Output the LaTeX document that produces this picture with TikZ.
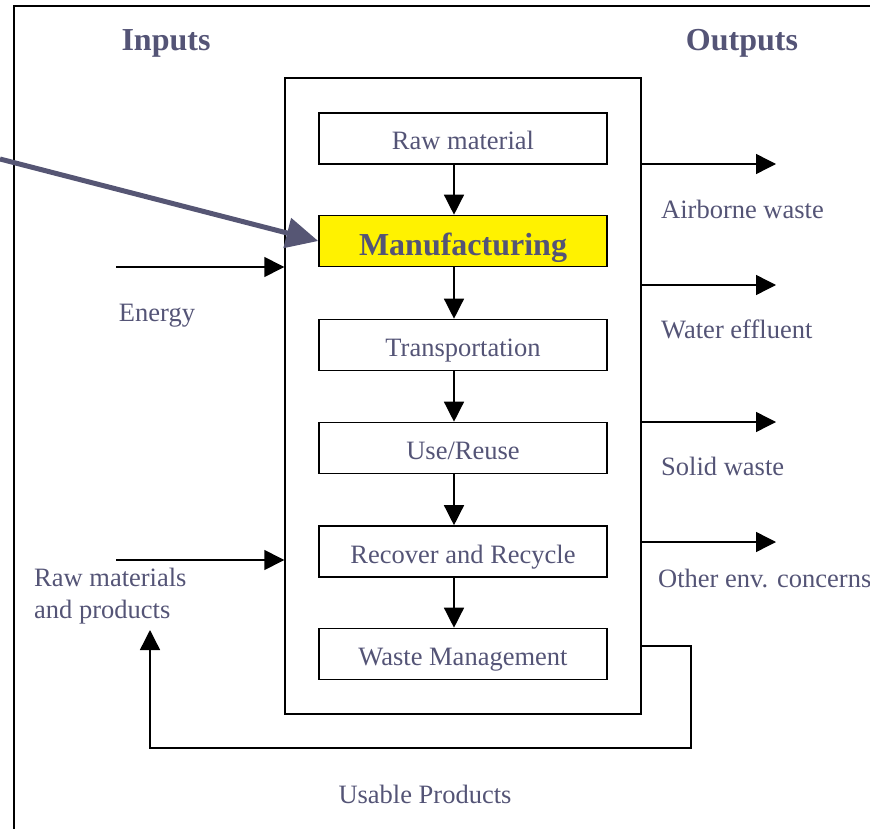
\documentclass[tikz,border=0pt]{standalone}
\usepackage{fontspec}
\setmainfont{Liberation Serif}
\usetikzlibrary{arrows.meta}
\definecolor{txt}{RGB}{84,84,118}
\definecolor{bigarr}{RGB}{86,86,116}
\begin{document}
\begin{tikzpicture}[x=1pt,y=-1pt,
  stage/.style={draw=black,line width=1.6pt,minimum width=288pt,minimum height=51pt,inner sep=0pt,
    font=\fontsize{26.5}{30}\selectfont,text=txt,text height=23pt,text depth=0pt},
  lbl/.style={font=\fontsize{26.5}{30}\selectfont,text=txt,inner sep=0pt},
  head/.style={font=\bfseries\fontsize{32}{36}\selectfont,text=txt,inner sep=0pt},
  flow/.style={line width=1.4pt,-{Triangle[length=20pt,width=20pt]}},
  plain/.style={line width=1.4pt}]
\useasboundingbox (0,0) rectangle (870,829);
% outer frame (only left and top edges visible)
\draw[line width=1.4pt] (14,829) -- (14,6) -- (870,6);
% inner box
\node[draw=black,line width=1.4pt,minimum width=356pt,minimum height=636pt,inner sep=0pt] (inner) at (463,396) {};
% headings
\node[head] (inputs) at (166,43) {Inputs};
\node[head] (outputs) at (742,43) {Outputs};
% stages
\node[stage] (raw) at (463,138.5) {Raw material};
\node[stage,fill=yellow,font=\bfseries\fontsize{32}{36}\selectfont,text height=28pt] (manu) at (463,241) {Manufacturing};
\node[stage] (trans) at (463,345) {Transportation};
\node[stage] (use) at (463,448) {Use/Reuse};
\node[stage] (rec) at (463,551.5) {Recover and Recycle};
\node[stage] (waste) at (463,654) {Waste Management};
% vertical flow (arrows sit left of the box centres)
\coordinate (ax) at (454,0);
\draw[flow] (ax |- raw.south) -- (ax |- manu.north);
\draw[flow] (ax |- manu.south) -- (ax |- trans.north);
\draw[flow] (ax |- trans.south) -- (ax |- use.north);
\draw[flow] (ax |- use.south) -- (ax |- rec.north);
\draw[flow] (ax |- rec.south) -- (ax |- waste.north);
% outputs
\coordinate (o1) at (776,164);
\coordinate (o2) at (776,285);
\coordinate (o3) at (776,422);
\coordinate (o4) at (776,542);
\draw[flow] (inner.east |- o1) -- (o1);
\draw[flow] (inner.east |- o2) -- (o2);
\draw[flow] (inner.east |- o3) -- (o3);
\draw[flow] (inner.east |- o4) -- (o4);
\node[lbl,anchor=west] (air) at (661,209) {Airborne waste};
\node[lbl,anchor=west] (water) at (661,329) {Water effluent};
\node[lbl,anchor=west] (solid) at (661,466) {Solid waste};
\node[lbl,anchor=west] (other) at (658,578) {Other env. concerns};
% inputs
\coordinate (i1) at (116,267);
\coordinate (i2) at (116,560);
\draw[flow] (i1) -- (inner.west |- i1);
\draw[flow] (i2) -- (inner.west |- i2);
\node[lbl] (energy) at (157,316) {Energy};
\node[lbl,anchor=north west,align=left,font=\fontsize{26.5}{32}\selectfont] (rawin) at (34,568) {Raw materials\\and products};
% feedback loop
\coordinate (f1) at (691,646);
\coordinate (f2) at (691,748);
\coordinate (f3) at (150,748);
\coordinate (ftip) at (150,630);
\draw[flow] (inner.east |- f1) -- (f1) -- (f2) -- (f3) -- (ftip);
\node[lbl] (usable) at (425,794) {Usable Products};
% big pointer arrow
\coordinate (bigstart) at (0,159);
\draw[line width=5pt,color=bigarr,-{Triangle[length=32pt,width=30pt]}] (bigstart) -- (manu.west);
\end{tikzpicture}
\end{document}
